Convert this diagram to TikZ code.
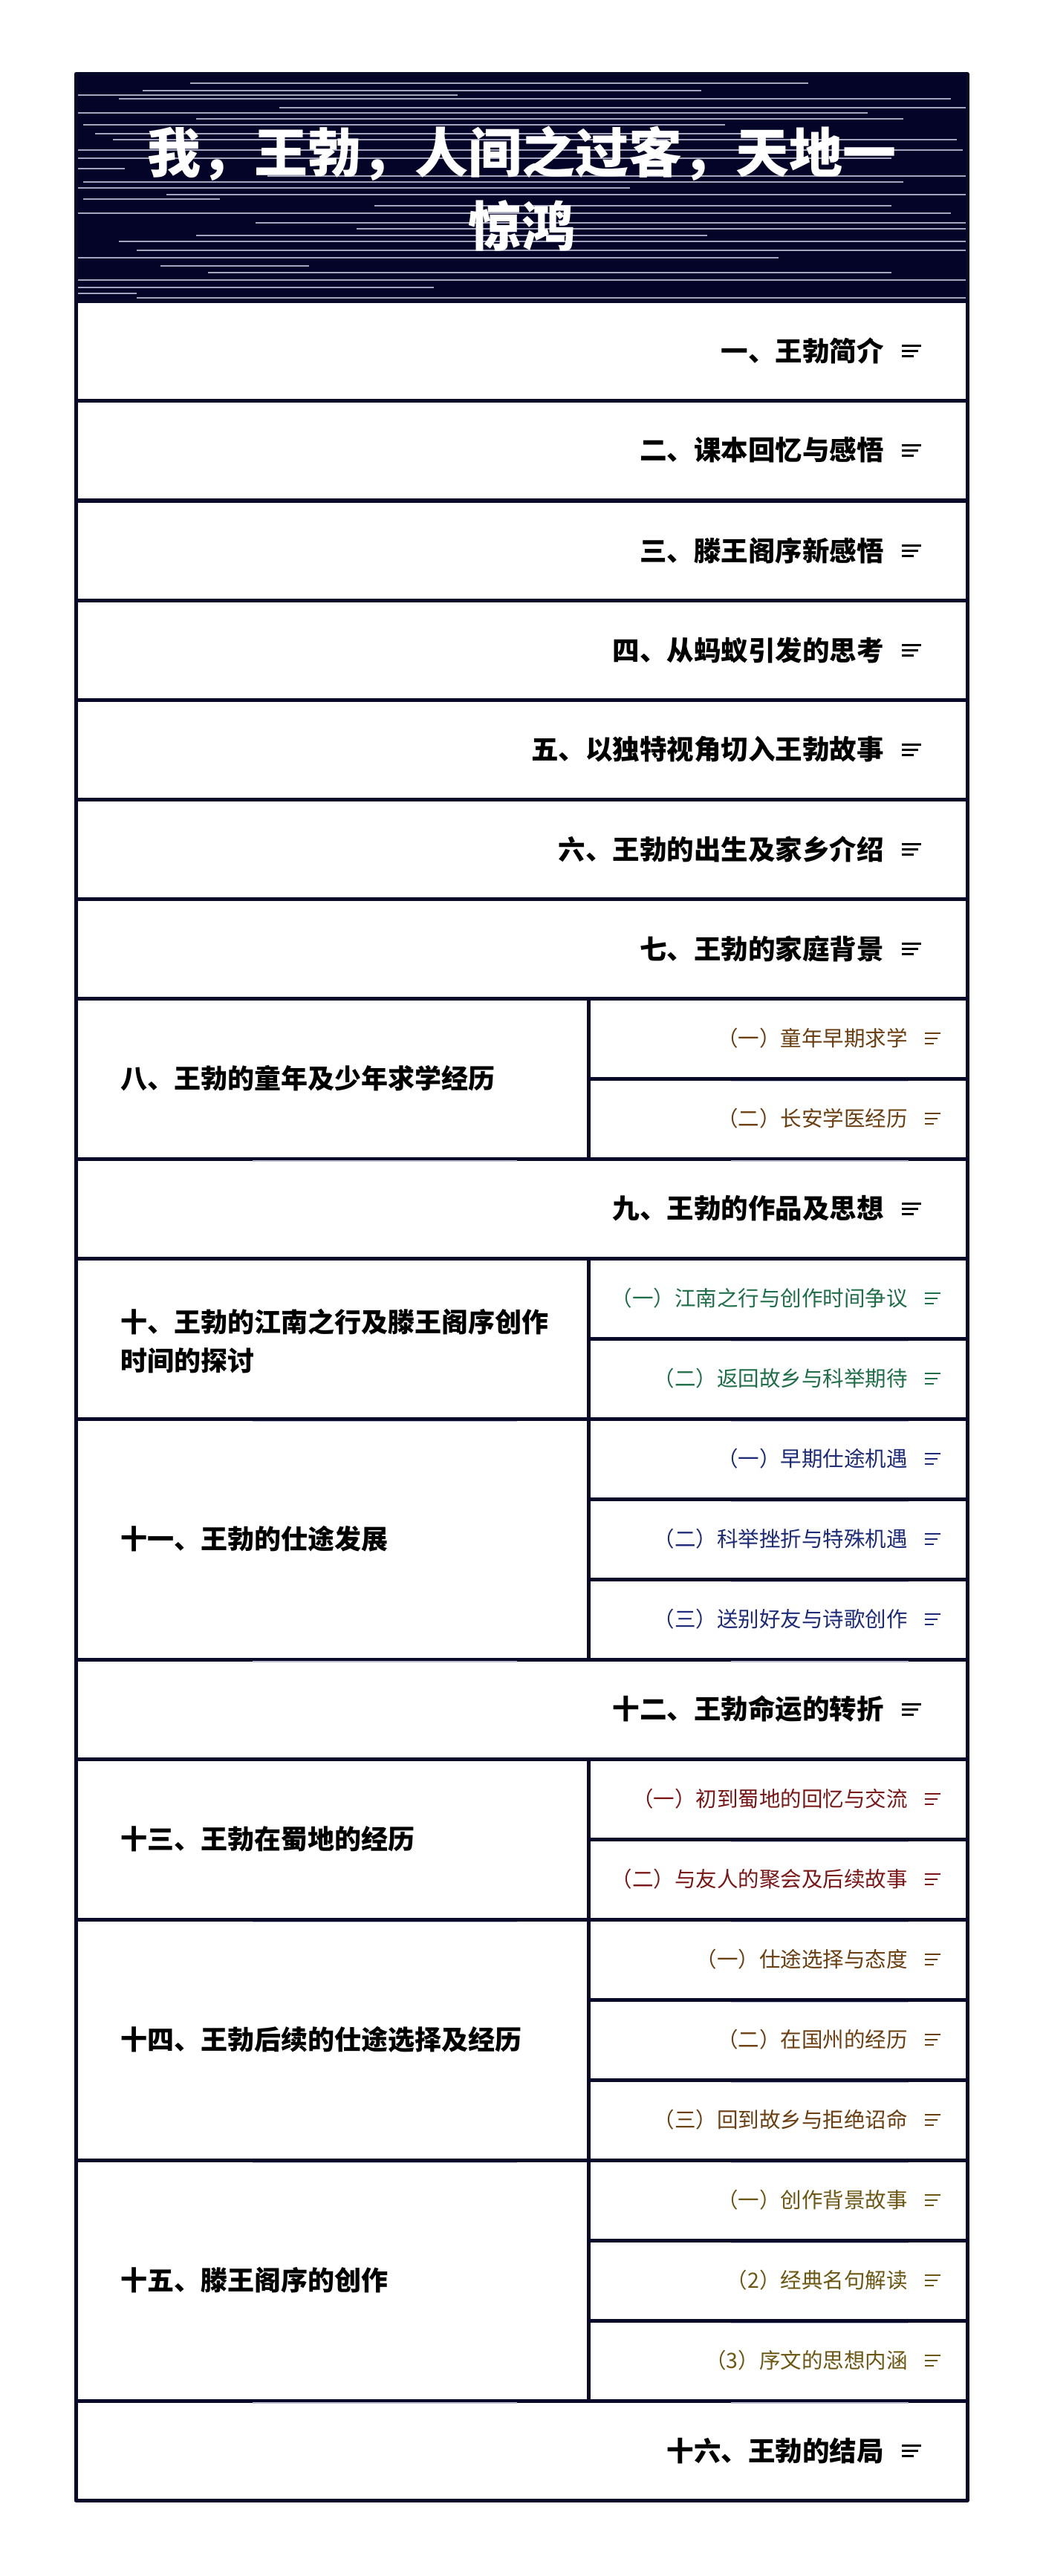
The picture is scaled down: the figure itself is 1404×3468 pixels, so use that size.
\documentclass[tikz,border=0pt]{standalone}
\usepackage{fontspec}
\setmainfont{Noto Sans CJK SC}
\definecolor{ink}{RGB}{8,8,40}
\definecolor{titlebg}{RGB}{4,4,40}
\definecolor{hatch}{RGB}{165,165,190}
\definecolor{gleam}{RGB}{190,190,210}
\definecolor{tanbrown}{RGB}{107,62,16}
\definecolor{pine}{RGB}{30,110,72}
\definecolor{royal}{RGB}{28,42,120}
\definecolor{maroon}{RGB}{122,22,22}
\definecolor{olivetxt}{RGB}{107,87,18}
\tikzset{cell/.style={draw=ink, line width=5pt, line join=round},
        sheen/.style={draw=gleam, line width=2pt},
        titlelbl/.style={text=white, align=center, inner sep=0pt,
            font=\fontsize{72}{99}\selectfont\bfseries},
        mainlbl/.style={anchor=east, inner sep=0pt,
            font=\fontsize{36.5}{44}\selectfont\bfseries},
        grouplbl/.style={anchor=west, inner sep=0pt, align=left,
            font=\fontsize{36}{52}\selectfont\bfseries},
        sublbl/.style={anchor=east, inner sep=0pt,
            font=\fontsize{28.5}{34}\selectfont}}
\newcommand{\mainicon}[1]{\draw[line width=3pt, shift={(#1.east)}]
    (24,-7) -- (50,-7) (24,0) -- (46,0) (24,7) -- (40,7);}
\newcommand{\subicon}[2]{\draw[#2, line width=2.5pt, shift={(#1.east)}]
    (23,-7) -- (44,-7) (23,0) -- (40,0) (23,7) -- (35,7);}

\begin{document}
\begin{tikzpicture}[x=1pt, y=-1pt]
    \useasboundingbox[fill=white] (0,0) rectangle (1404,3468);

    \fill[titlebg] (102,100) rectangle (1302,405);
    \foreach \y/\a/\b in {112/256/1088, 122/192/944, 128/104/616,
        133/160/1280, 145/376/1300, 152/104/1168, 160/264/1216,
        168/112/976, 180/128/1040, 188/152/1288, 202/104/1296,
        213/104/1200, 227/104/168, 237/360/1300, 245/112/1216,
        253/104/848, 262/224/1300, 268/112/296, 277/504/1200,
        287/104/1280, 300/344/1300, 308/480/1300, 317/264/952,
        325/160/1300, 337/184/1300, 347/104/1048, 358/216/416,
        367/280/1200, 377/104/1300, 387/104/584, 395/104/184,
        401/184/1300}
        \draw[hatch, line width=1.5pt] (\a,\y) -- (\b,\y);
    \draw[cell] (102,100) rectangle (1302,405);
    \node[titlelbl] (title) at (702,254) {我，王勃，人间之过客，天地一\\惊鸿};

    \foreach \n/\top/\txt in {1/405/一、王勃简介, 2/539/二、课本回忆与感悟,
        3/674/三、滕王阁序新感悟, 4/808/四、从蚂蚁引发的思考,
        5/942/五、以独特视角切入王勃故事, 6/1076/六、王勃的出生及家乡介绍,
        7/1210/七、王勃的家庭背景, 9/1560/九、王勃的作品及思想,
        12/2234/十二、王勃命运的转折, 16/3232/十六、王勃的结局} {
        \draw[cell] (102,\top) rectangle (1302,\top+134);
        \node[mainlbl] (r\n) at (1190,\top+67) {\txt};
        \mainicon{r\n}
    }

    \draw[cell] (102,1344) rectangle (792,1560);
    \draw[sheen] (340,1563) -- (696,1563);
    \node[grouplbl] (r8) at (162,1452) {八、王勃的童年及少年求学经历};
    \foreach \k/\top/\txt in {a/1344/（一）童年早期求学, b/1452/（二）长安学医经历} {
        \draw[cell] (792,\top) rectangle (1302,\top+108);
        \draw[sheen] (984,\top+111) -- (1223,\top+111);
        \node[sublbl, text=tanbrown] (r8\k) at (1222,\top+54) {\txt};
        \subicon{r8\k}{tanbrown}
    }

    \draw[cell] (102,1694) rectangle (792,1910);
    \draw[sheen] (340,1913) -- (696,1913);
    \node[grouplbl] (r10) at (162,1806) {十、王勃的江南之行及滕王阁序创作\\时间的探讨};
    \foreach \k/\top/\txt in {a/1694/（一）江南之行与创作时间争议, b/1802/（二）返回故乡与科举期待} {
        \draw[cell] (792,\top) rectangle (1302,\top+108);
        \draw[sheen] (984,\top+111) -- (1223,\top+111);
        \node[sublbl, text=pine] (r10\k) at (1222,\top+54) {\txt};
        \subicon{r10\k}{pine}
    }

    \draw[cell] (102,1910) rectangle (792,2234);
    \draw[sheen] (340,2237) -- (696,2237);
    \node[grouplbl] (r11) at (162,2072) {十一、王勃的仕途发展};
    \foreach \k/\top/\txt in {a/1910/（一）早期仕途机遇, b/2018/（二）科举挫折与特殊机遇,
        c/2126/（三）送别好友与诗歌创作} {
        \draw[cell] (792,\top) rectangle (1302,\top+108);
        \draw[sheen] (984,\top+111) -- (1223,\top+111);
        \node[sublbl, text=royal] (r11\k) at (1222,\top+54) {\txt};
        \subicon{r11\k}{royal}
    }

    \draw[cell] (102,2368) rectangle (792,2584);
    \draw[sheen] (340,2587) -- (696,2587);
    \node[grouplbl] (r13) at (162,2476) {十三、王勃在蜀地的经历};
    \foreach \k/\top/\txt in {a/2368/（一）初到蜀地的回忆与交流, b/2476/（二）与友人的聚会及后续故事} {
        \draw[cell] (792,\top) rectangle (1302,\top+108);
        \draw[sheen] (984,\top+111) -- (1223,\top+111);
        \node[sublbl, text=maroon] (r13\k) at (1222,\top+54) {\txt};
        \subicon{r13\k}{maroon}
    }

    \draw[cell] (102,2584) rectangle (792,2908);
    \draw[sheen] (340,2911) -- (696,2911);
    \node[grouplbl] (r14) at (162,2746) {十四、王勃后续的仕途选择及经历};
    \foreach \k/\top/\txt in {a/2584/（一）仕途选择与态度, b/2692/（二）在国州的经历,
        c/2800/（三）回到故乡与拒绝诏命} {
        \draw[cell] (792,\top) rectangle (1302,\top+108);
        \draw[sheen] (984,\top+111) -- (1223,\top+111);
        \node[sublbl, text=tanbrown] (r14\k) at (1222,\top+54) {\txt};
        \subicon{r14\k}{tanbrown}
    }

    \draw[cell] (102,2908) rectangle (792,3232);
    \draw[sheen] (340,3235) -- (696,3235);
    \node[grouplbl] (r15) at (162,3070) {十五、滕王阁序的创作};
    \foreach \k/\top/\txt in {a/2908/（一）创作背景故事, b/3016/（2）经典名句解读,
        c/3124/（3）序文的思想内涵} {
        \draw[cell] (792,\top) rectangle (1302,\top+108);
        \draw[sheen] (984,\top+111) -- (1223,\top+111);
        \node[sublbl, text=olivetxt] (r15\k) at (1222,\top+54) {\txt};
        \subicon{r15\k}{olivetxt}
    }
\end{tikzpicture}
\end{document}
